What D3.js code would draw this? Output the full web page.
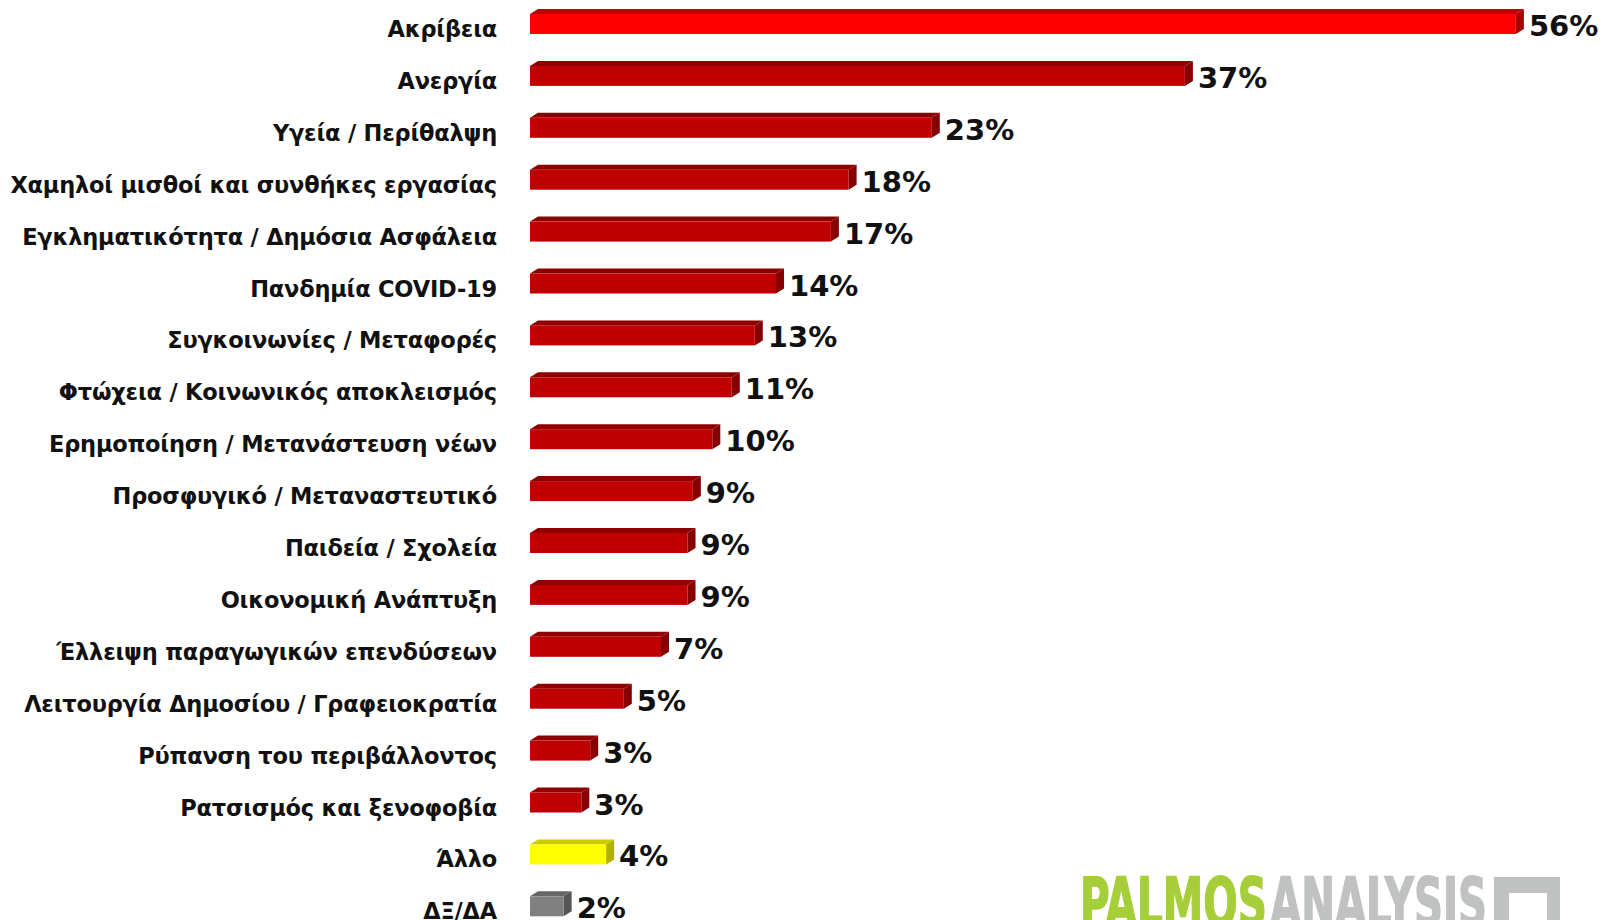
<!DOCTYPE html>
<html>
<head>
<meta charset="utf-8">
<script src="https://cdn.jsdelivr.net/npm/d3@7"></script>
<style>
    body { margin: 0; background: #ffffff; }
</style>
</head>
<body>
<div id="chart"></div>
<script>

/* DATA *******************************************************************************/

var categories = [
    "Ακρίβεια",
    "Ανεργία",
    "Υγεία / Περίθαλψη",
    "Χαμηλοί μισθοί και συνθήκες εργασίας",
    "Εγκληματικότητα / Δημόσια Ασφάλεια",
    "Πανδημία COVID-19",
    "Συγκοινωνίες / Μεταφορές",
    "Φτώχεια / Κοινωνικός αποκλεισμός",
    "Ερημοποίηση / Μετανάστευση νέων",
    "Προσφυγικό / Μεταναστευτικό",
    "Παιδεία / Σχολεία",
    "Οικονομική Ανάπτυξη",
    "Έλλειψη παραγωγικών επενδύσεων",
    "Λειτουργία Δημοσίου / Γραφειοκρατία",
    "Ρύπανση του περιβάλλοντος",
    "Ρατσισμός και ξενοφοβία",
    "Άλλο",
    "ΔΞ/ΔΑ"
];

// percentages (labels show them rounded)
var values = [55.7, 37.0, 22.7, 18.0, 17.0, 13.9, 12.7, 11.4, 10.3, 9.2, 8.9, 8.9, 7.4, 5.3, 3.4, 2.9, 4.3, 1.9];

var logoParts = ["PALMOS", "ANALYSIS"];

/* SETTINGS ***************************************************************************/

const width = 1602;
const height = 920;
const barLeft = 530;
const barH = 20;
const depthX = 8;     // 3d extrusion
const depthY = 5;

var labelFont = "'DejaVu Sans', Verdana, sans-serif";
var logoFont = "'DejaVu Sans Condensed', 'Liberation Sans Narrow', sans-serif";

// front / top / side colours
var palette = {
    first: ["#ff0000", "#c00000", "#a80000"],
    normal: ["#c00000", "#8e0000", "#860000"],
    other: ["#ffff00", "#cccc00", "#b0b000"],
    dk: ["#808080", "#666666", "#555555"]
};
function colorsFor(cat, i) {
    if (i === 0) return palette.first;
    if (cat === "Άλλο") return palette.other;
    if (cat === "ΔΞ/ΔΑ") return palette.dk;
    return palette.normal;
}

var data = categories.map(function(c, i) { return {cat: c, val: values[i], idx: i}; });

/* SVG ********************************************************************************/

var svg = d3.select("#chart")
    .append("svg")
    .attr("width", width)
    .attr("height", height)
    .style("background-color", "#ffffff");

var x = d3.scaleLinear()
    .domain([0, 60])
    .range([barLeft, barLeft + 17.7 * 60]);

var y = d3.scaleBand()
    .domain(categories)
    .range([14, 14 + 17 * 51.9 + barH])
    .paddingInner(1 - barH / 51.9)
    .paddingOuter(0);

var bars = svg.append("g").selectAll("g")
    .data(data)
    .join("g");

// top face
bars.append("polygon")
    .attr("points", function(d) {
        var x0 = x(0), x1 = x(d.val), y0 = y(d.cat);
        return [[x0, y0], [x0 + depthX, y0 - depthY], [x1 + depthX, y0 - depthY], [x1, y0]].join(" ");
    })
    .attr("fill", d => colorsFor(d.cat, d.idx)[1]);

// side face
bars.append("polygon")
    .attr("points", function(d) {
        var x1 = x(d.val), y0 = y(d.cat);
        return [[x1, y0], [x1 + depthX, y0 - depthY], [x1 + depthX, y0 + barH - depthY], [x1, y0 + barH]].join(" ");
    })
    .attr("fill", d => colorsFor(d.cat, d.idx)[2]);

// front face
bars.append("rect")
    .attr("x", x(0))
    .attr("y", d => y(d.cat))
    .attr("width", d => x(d.val) - x(0))
    .attr("height", barH)
    .attr("fill", d => colorsFor(d.cat, d.idx)[0]);

// value labels
bars.append("text")
    .attr("x", d => x(d.val) + depthX + 5)
    .attr("y", d => y(d.cat) + barH + 2)
    .attr("font-family", labelFont)
    .attr("font-weight", "bold")
    .attr("font-size", 29)
    .attr("fill", "#111111")
    .text(d => Math.round(d.val) + "%");

// category labels
svg.append("g").selectAll("text")
    .data(data)
    .join("text")
    .attr("x", 497)
    .attr("y", d => y(d.cat) + barH + 3)
    .attr("text-anchor", "end")
    .attr("font-family", labelFont)
    .attr("font-weight", "bold")
    .attr("font-size", 22.5)
    .attr("letter-spacing", -0.2)
    .attr("fill", "#111111")
    .text(d => d.cat);

/* LOGO *******************************************************************************/

var logo = svg.append("g");
logo.append("text")
    .attr("x", 1080).attr("y", 926)
    .attr("font-family", logoFont)
    .attr("font-weight", "bold")
    .attr("font-size", 68)
    .attr("textLength", 187)
    .attr("lengthAdjust", "spacingAndGlyphs")
    .attr("fill", "#a6ce39")
    .attr("stroke", "#a6ce39")
    .attr("stroke-width", 1.5)
    .text(logoParts[0]);
logo.append("text")
    .attr("x", 1270).attr("y", 926)
    .attr("font-family", logoFont)
    .attr("font-weight", "bold")
    .attr("font-size", 68)
    .attr("textLength", 217)
    .attr("lengthAdjust", "spacingAndGlyphs")
    .attr("fill", "#c0c1c1")
    .attr("stroke", "#c0c1c1")
    .attr("stroke-width", 1.5)
    .text(logoParts[1]);
logo.append("rect")
    .attr("x", 1494).attr("y", 877).attr("width", 66).attr("height", 60)
    .attr("fill", "#c0c1c1");
logo.append("rect")
    .attr("x", 1509).attr("y", 893).attr("width", 38).attr("height", 50)
    .attr("fill", "#ffffff");

</script>
</body>
</html>
